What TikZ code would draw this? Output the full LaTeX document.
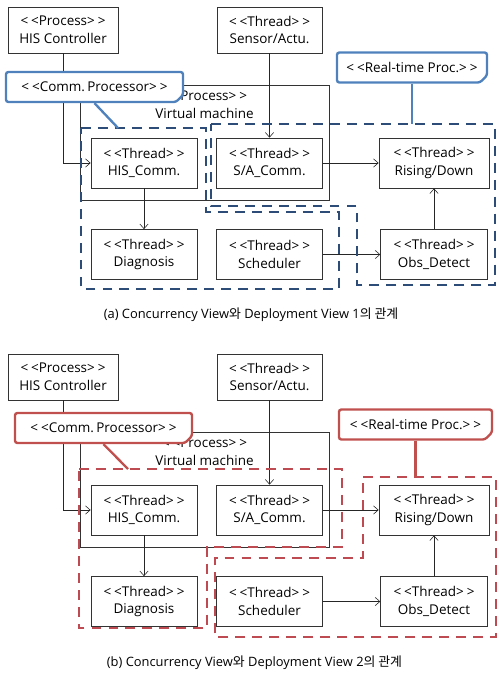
\documentclass[tikz,border=0pt]{standalone}
\usepackage{fontspec}
\setmainfont{Open Sans}
\newfontfamily\kr{Noto Sans CJK KR}
\usetikzlibrary{arrows.meta,shapes.misc}

\definecolor{cpblue}{HTML}{4F81BD}
\definecolor{dashblue}{HTML}{2E4C78}
\definecolor{cpred}{HTML}{C0504D}
\definecolor{dashred}{HTML}{BE4B51}

\newcommand{\stereo}[1]{<\kern2.5pt<#1>\kern2.5pt>}

\tikzset{
  tbox/.style={draw=black!80, line width=0.6pt, fill=white, align=center,
    minimum width=3.18cm, minimum height=1.5cm, inner sep=1pt,
    font=\fontsize{11.5}{15}\selectfont},
  flow/.style={-{Straight Barb[length=4pt,width=7pt]}, line width=0.5pt, black!85},
  callout/.style={chamfered rectangle, chamfered rectangle corners=south east,
    chamfered rectangle xsep=3pt, chamfered rectangle ysep=3pt,
    draw=#1, line width=2pt, fill=white, rounded corners=2pt,
    minimum height=0.9cm, font=\fontsize{11.5}{15}\selectfont},
  region/.style={draw=#1, line width=2.2pt, dash pattern=on 8.5pt off 6pt},
  caption/.style={font=\fontsize{11}{13}\selectfont}
}

\begin{document}
\begin{tikzpicture}[x=0.03cm, y=-0.03cm]
\useasboundingbox (0,0) rectangle (498,674);

% (a) Process box
\draw[line width=0.6pt, black!80] (80,85) rectangle (329,200);
\node[align=center, font=\fontsize{11.5}{15}\selectfont] (a-vm) at (204.5,105) {\stereo{Process}\\Virtual machine};

% (a) Threads
\node[tbox, minimum width=3.3cm, minimum height=1.38cm] (a-hisc) at (63,30) {\stereo{Process}\\HIS Controller};
\node[tbox, minimum width=3.15cm, minimum height=1.38cm] (a-sens) at (269.5,30) {\stereo{Thread}\\Sensor/Actu.};
\node[tbox] (a-hcom) at (144,163) {\stereo{Thread}\\HIS\_Comm.};
\node[tbox] (a-sacom) at (269.5,163) {\stereo{Thread}\\S/A\_Comm.};
\node[tbox, minimum width=3.3cm] (a-rise) at (434,163) {\stereo{Thread}\\Rising/Down};
\node[tbox] (a-diag) at (144,254.5) {\stereo{Thread}\\Diagnosis};
\node[tbox] (a-sched) at (269.5,254.5) {\stereo{Thread}\\Scheduler};
\node[tbox, minimum width=3.2cm] (a-obs) at (434,254.5) {\stereo{Thread}\\Obs\_Detect};

\draw[flow] (a-hisc.south) |- (a-hcom.west);
\draw[flow] (a-sens) -- (a-sacom);
\draw[flow] (a-sacom) -- (a-rise);
\draw[flow] (a-hcom) -- (a-diag);
\draw[flow] (a-sched) -- (a-obs);
\draw[flow] (a-obs) -- (a-rise);

% (a) Deployment
\draw[region=dashblue] (81,128) -- (206,128) -- (206,212) -- (339,212) -- (339,289) -- (81,289) -- cycle;
\draw[region=dashblue] (211,124) -- (495,124) -- (495,285) -- (357,285) -- (357,206) -- (211,206) -- cycle;

\coordinate (a-cpfoot) at (118,128);
\coordinate (a-rtfoot) at (412,124);
\node[callout=cpblue, minimum width=5.31cm] (a-cp) at (94.5,87) {\stereo{Comm.\,Processor}};
\node[callout=cpblue, minimum width=4.5cm] (a-rt) at (412,67.5) {\stereo{Real-time Proc.}};
\draw[cpblue, line width=2pt] (a-cp.south) -- (a-cpfoot);
\draw[cpblue, line width=2pt] (a-rt.south) -- (a-rtfoot);

\node[caption] (a-cap) at (251,315) {(a) Concurrency View{\kr 와} Deployment View 1{\kr 의 관계}};

% (b) Process box
\draw[line width=0.6pt, black!80] (80,432) rectangle (329,547);
\node[align=center, font=\fontsize{11.5}{15}\selectfont] (b-vm) at (204.5,452) {\stereo{Process}\\Virtual machine};

% (b) Threads
\node[tbox, minimum width=3.3cm, minimum height=1.38cm] (b-hisc) at (63,377) {\stereo{Process}\\HIS Controller};
\node[tbox, minimum width=3.15cm, minimum height=1.38cm] (b-sens) at (269.5,377) {\stereo{Thread}\\Sensor/Actu.};
\node[tbox] (b-hcom) at (144,510) {\stereo{Thread}\\HIS\_Comm.};
\node[tbox] (b-sacom) at (269.5,510) {\stereo{Thread}\\S/A\_Comm.};
\node[tbox, minimum width=3.3cm] (b-rise) at (434,510) {\stereo{Thread}\\Rising/Down};
\node[tbox] (b-diag) at (144,601.5) {\stereo{Thread}\\Diagnosis};
\node[tbox] (b-sched) at (269.5,601.5) {\stereo{Thread}\\Scheduler};
\node[tbox, minimum width=3.2cm] (b-obs) at (434,601.5) {\stereo{Thread}\\Obs\_Detect};

\draw[flow] (b-hisc.south) |- (b-hcom.west);
\draw[flow] (b-sens) -- (b-sacom);
\draw[flow] (b-sacom) -- (b-rise);
\draw[flow] (b-hcom) -- (b-diag);
\draw[flow] (b-sched) -- (b-obs);
\draw[flow] (b-obs) -- (b-rise);

% (b) Deployment
\draw[region=dashred] (79,469) -- (342,469) -- (342,547) -- (207,547) -- (207,628) -- (79,628) -- cycle;
\draw[region=dashred] (363,477) -- (496,477) -- (496,637) -- (215,637) -- (215,558) -- (363,558) -- cycle;

\coordinate (b-cpfoot) at (128,469);
\coordinate (b-rtfoot) at (415.5,477);
\node[callout=cpred, minimum width=5.31cm] (b-cp) at (103.5,428) {\stereo{Comm.\,Processor}};
\node[callout=cpred, minimum width=4.59cm] (b-rt) at (415.5,424.5) {\stereo{Real-time Proc.}};
\draw[cpred, line width=2pt] (b-cp.south) -- (b-cpfoot);
\draw[cpred, line width=2pt] (b-rt.south) -- (b-rtfoot);

\node[caption] (b-cap) at (254.5,663) {(b) Concurrency View{\kr 와} Deployment View 2{\kr 의 관계}};
\end{tikzpicture}
\end{document}
